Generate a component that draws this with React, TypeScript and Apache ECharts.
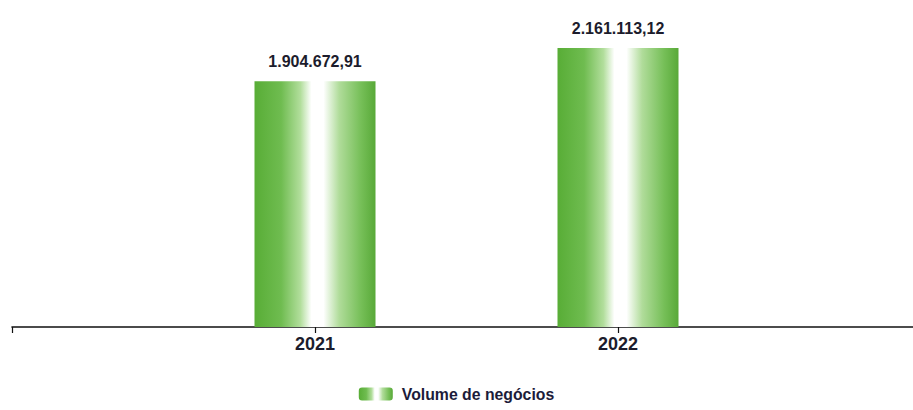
import React, { useEffect, useRef } from "react";
import * as echarts from "echarts";

const categories = ["", "2021", "2022", ""];
const volumeValues: (number | string)[] = ["-", 1904672.91, 2161113.12, "-"];
const seriesName = "Volume de negócios";

function formatPt(v: number): string {
  const [intPart, dec] = v.toFixed(2).split(".");
  const withDots = intPart.replace(/\B(?=(\d{3})+(?!\d))/g, ".");
  return withDots + "," + dec;
}

export default function App() {
  const ref = useRef<HTMLDivElement>(null);
  useEffect(() => {
    document.body.style.margin = "0";
    if (!ref.current) return;
    const chart = echarts.init(ref.current, null, { renderer: "svg" });
    const gradient = new echarts.graphic.LinearGradient(0, 0, 1, 0, [
      { offset: 0, color: "#58ad36" },
      { offset: 0.22, color: "#6fbc50" },
      { offset: 0.38, color: "#b2de9c" },
      { offset: 0.47, color: "#ffffff" },
      { offset: 0.57, color: "#ffffff" },
      { offset: 0.7, color: "#b0dc9a" },
      { offset: 0.88, color: "#76bf58" },
      { offset: 1, color: "#58a938" },
    ]);
    chart.setOption({
      animation: false,
      backgroundColor: "#ffffff",
      grid: { left: 12, right: -8, top: 4.3, bottom: 83, outerBoundsMode: "none", containLabel: false },
      legend: {
        data: [seriesName],
        bottom: 3,
        left: "center",
        itemWidth: 34,
        itemHeight: 13,
        itemGap: 10,
        textStyle: {
          fontFamily: "Liberation Sans, Arial, sans-serif",
          fontWeight: "bold",
          fontSize: 15.8,
          color: "#1c1c3a",
          padding: [0, 0, 0, 4],
        },
      },
      xAxis: {
        type: "category",
        data: categories,
        boundaryGap: false,
        axisLine: { lineStyle: { color: "#111111", width: 1.6 } },
        axisTick: { show: true, length: 6, lineStyle: { color: "#111111", width: 1.2 } },
        axisLabel: {
          margin: 8,
          fontFamily: "Liberation Sans, Arial, sans-serif",
          fontWeight: "bold",
          fontSize: 18,
          color: "#1c1c2c",
        },
      },
      yAxis: {
        type: "value",
        min: 0,
        max: 2500000,
        show: false,
        splitLine: { show: false },
      },
      series: [
        {
          name: seriesName,
          type: "bar",
          data: volumeValues,
          barWidth: 121,
          itemStyle: { color: gradient },
          label: {
            show: true,
            position: "top",
            distance: 12,
            formatter: (p: any) => formatPt(p.value as number),
            fontFamily: "Liberation Sans, Arial, sans-serif",
            fontWeight: "bold",
            fontSize: 16,
            color: "#1c1c2c",
          },
        },
      ],
    });
    return () => chart.dispose();
  }, []);
  return <div ref={ref} style={{ width: 913, height: 410 }} />;
}
